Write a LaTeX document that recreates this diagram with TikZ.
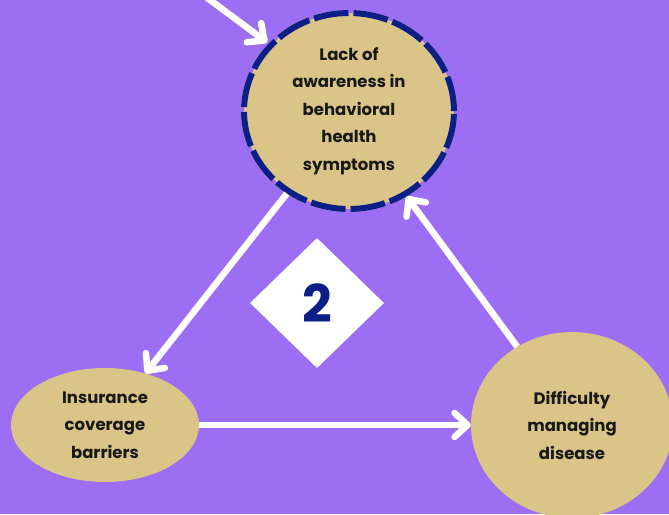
\documentclass[tikz,border=0pt]{standalone}
\usepackage{fontspec}
\setmainfont{Poppins}
\usepackage{tikz}
\usetikzlibrary{shapes.geometric,arrows.meta}
\definecolor{bgpurple}{HTML}{9B6EF3}
\definecolor{sand}{HTML}{DBC487}
\definecolor{navy}{HTML}{0B1F87}

\begin{document}
\begin{tikzpicture}[x=1pt, y=-1pt,
  every node/.style={font=\bfseries\fontsize{16.5}{27.5}\selectfont, align=center, text=black!90},
  bubble/.style={ellipse, fill=sand, inner sep=0pt},
  arr/.style={-{Straight Barb[round, length=13pt, width=24pt]}, line width=6.5pt, white}]
\useasboundingbox (0,0) rectangle (669,514);
\clip (0,0) rectangle (669,514);
\fill[bgpurple] (0,0) rectangle (669,514);
% the three bubbles
\node[bubble, minimum width=210pt, minimum height=196pt,
  preaction={draw=sand, line width=6pt},
  draw=navy, line width=6pt, dash pattern=on 35pt off 5pt] (C1) at (349,111)
  {Lack of\\awareness in\\behavioral\\health\\symptoms};
\node[bubble, minimum width=188pt, minimum height=114pt] (C2) at (105,425)
  {Insurance\\coverage\\barriers};
\node[bubble, minimum width=202pt, minimum height=186pt] (C3) at (572,425)
  {Difficulty\\managing\\disease};
\node[diamond, fill=white, minimum width=134pt, minimum height=130pt, inner sep=0pt,
  text=navy, font=\bfseries\fontsize{52}{52}\selectfont] (D) at (317,303) {2};
% arrows
\coordinate (S) at (198,-9);
\draw[arr, shorten >=2pt] (S) -- (C1.140);
\draw[arr] (C1.233) -- (C2.52);
\draw[arr] (C2.east) -- (C3.west);
\draw[arr] (C3.125) -- (C1.304);
\end{tikzpicture}
\end{document}
